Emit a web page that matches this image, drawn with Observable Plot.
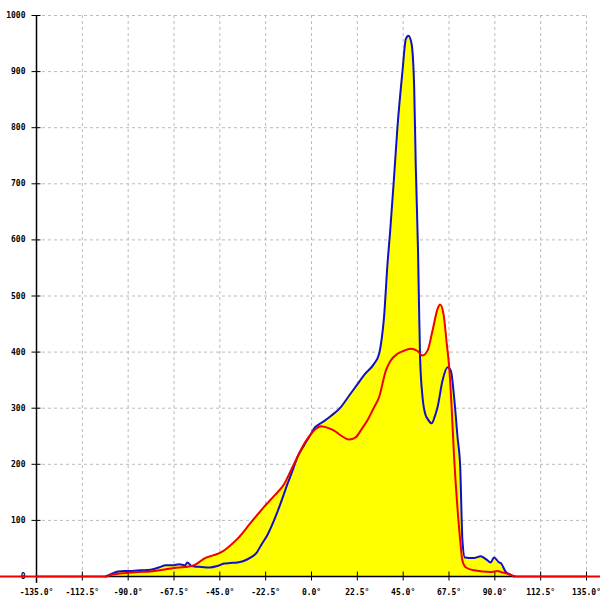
<!DOCTYPE html>
<html>
<head>
<meta charset="utf-8">
<script src="https://cdn.jsdelivr.net/npm/d3@7"></script>
<script src="https://cdn.jsdelivr.net/npm/@observablehq/plot@0.6"></script>
<style>
  html, body { margin: 0; padding: 0; background: #fff; }
</style>
</head>
<body>
<div id="chart"></div>
<script>
const xTicks = [-135, -112.5, -90, -67.5, -45, -22.5, 0, 22.5, 45, 67.5, 90, 112.5, 135];
const yTicks = [0, 100, 200, 300, 400, 500, 600, 700, 800, 900, 1000];

const blueAngle = [-101, -98, -95, -92, -88, -84, -79, -75, -71.5, -68, -65, -62, -61, -59, -57.6, -54, -50, -46, -43, -40, -36.4, -33, -29.8, -27, -24.9, -21.5, -18.4, -15, -11.8, -9, -6.9, -3.5, -0.3, 1.3, 4, 6.2, 9.5, 14.4, 18, 22.6, 26, 30.7, 33.2, 35, 35.6, 37.3, 38.6, 40.3, 42.2, 44.7, 46.3, 47.6, 49.1, 50.4, 51.2, 52.3, 52.8, 53.3, 54.5, 56, 57, 59, 60.5, 61.9, 64.3, 66.8, 68.4, 70, 71.7, 73, 74.1, 75.3, 79.8, 83.1, 85.6, 88, 89.6, 92.1, 92.9, 95.4, 97.8, 99.5];
const blueValue = [0, 5, 9, 10, 10, 11, 12, 16, 20, 20, 22, 20, 25, 19, 18, 17, 16, 19, 23, 24, 25, 28, 34, 42, 55, 75, 100, 132, 165, 192, 213, 235, 254, 264, 272, 277, 286, 302, 320, 343, 360, 379, 397, 440, 462, 557, 615, 700, 801, 902, 958, 964, 950, 872, 730, 580, 480, 391, 320, 288, 281, 273, 285, 302, 349, 373, 367, 320, 248, 195, 64, 34, 33, 36, 31, 25, 34, 25, 24, 8, 3, 0];

const redAngle = [-155, -101, -98, -95, -92, -85, -79, -73, -67.5, -62, -57.6, -55, -52.7, -48, -44.5, -40, -36.4, -30, -23.3, -18, -13.4, -10, -6.9, -3, -0.3, 2, 4.6, 8, 11.1, 15, 18.5, 21.7, 24.5, 27.4, 30.5, 33.2, 36.5, 38.9, 42.2, 45, 48.7, 52, 54.5, 57, 59.4, 61.9, 63.1, 64.8, 66.4, 67.6, 68.7, 70, 71.5, 73, 74, 75.8, 79.8, 88, 91.3, 93, 96.2, 100.3, 145];
const redValue = [0, 0, 3, 5, 6, 8, 9, 12, 15, 17, 20, 26, 32, 38, 43, 55, 67, 95, 124, 145, 165, 190, 213, 240, 254, 263, 268, 265, 260, 250, 244, 248, 262, 278, 300, 320, 367, 385, 397, 402, 406, 402, 394, 403, 438, 477, 485, 468, 415, 373, 308, 213, 130, 64, 30, 16, 11, 8, 10, 8, 5, 0, 0];

const blue = blueAngle.map((a, i) => ({angle: a, value: blueValue[i]}));
const red = redAngle.map((a, i) => ({angle: a, value: redValue[i]}));

const fmtX = d => d.toFixed(1) + "°";

const chart = Plot.plot({
  width: 600,
  height: 600,
  marginLeft: 36,
  marginRight: 14,
  marginTop: 15,
  marginBottom: 24,
  style: {fontFamily: "'DejaVu Sans Mono', monospace", fontSize: "8px", fontWeight: "bold", background: "#fff", color: "#000"},
  x: {domain: [-135, 135]},
  y: {domain: [0, 1000]},
  marks: [
    Plot.gridX(xTicks, {stroke: "#bbb", strokeOpacity: 1, strokeDasharray: "3,3"}),
    Plot.gridY(yTicks, {stroke: "#bbb", strokeOpacity: 1, strokeDasharray: "3,3"}),
    Plot.areaY(blue, {x: "angle", y: "value", fill: "#ffff00", curve: "monotone-x"}),
    Plot.areaY(red, {x: "angle", y: "value", fill: "#ffff00", curve: "monotone-x"}),
    Plot.axisX(xTicks, {tickSize: 9, dy: -4.5, tickFormat: () => "", label: null, stroke: "#000"}),
    Plot.axisX(xTicks, {tickSize: 0, tickPadding: 13, tickFormat: fmtX, label: null}),
    Plot.axisY(yTicks, {tickSize: 9, dx: 4.5, tickFormat: () => "", label: null, stroke: "#000"}),
    Plot.axisY(yTicks, {tickSize: 0, tickPadding: 11, tickFormat: d => String(d), label: null}),
    Plot.ruleX([-135], {stroke: "#000", strokeWidth: 1.5, insetBottom: -7}),
    Plot.ruleY([0], {stroke: "#000", strokeWidth: 1.5}),
    Plot.lineY(blue, {x: "angle", y: "value", stroke: "#1010c8", strokeWidth: 2, curve: "monotone-x"}),
    Plot.lineY(red, {x: "angle", y: "value", stroke: "#f00000", strokeWidth: 2, curve: "monotone-x"})
  ]
});
document.getElementById("chart").appendChild(chart);
</script>
</body>
</html>
